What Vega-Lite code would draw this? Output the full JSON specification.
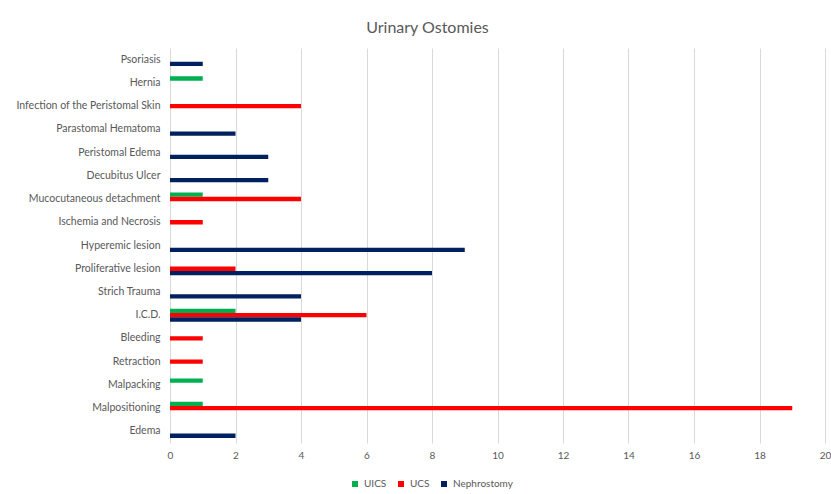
{
  "$schema": "https://vega.github.io/schema/vega-lite/v6.json",
  "width": 655,
  "height": 395,
  "autosize": {"type": "none"},
  "padding": {"left": 170, "top": 48, "right": 6, "bottom": 51},
  "background": "white",
  "title": {
    "text": "Urinary Ostomies",
    "anchor": "middle",
    "dx": -70,
    "offset": 12,
    "font": "Lato",
    "fontSize": 16,
    "fontWeight": "normal",
    "color": "#595959"
  },
  "data": {
    "values": [
      {"cat": "Psoriasis", "series": "Nephrostomy", "value": 1},
      {"cat": "Hernia", "series": "UICS", "value": 1},
      {"cat": "Infection of the Peristomal Skin", "series": "UCS", "value": 4},
      {"cat": "Parastomal Hematoma", "series": "Nephrostomy", "value": 2},
      {"cat": "Peristomal Edema", "series": "Nephrostomy", "value": 3},
      {"cat": "Decubitus Ulcer", "series": "Nephrostomy", "value": 3},
      {"cat": "Mucocutaneous detachment", "series": "UICS", "value": 1},
      {"cat": "Mucocutaneous detachment", "series": "UCS", "value": 4},
      {"cat": "Ischemia and Necrosis", "series": "UCS", "value": 1},
      {"cat": "Hyperemic lesion", "series": "Nephrostomy", "value": 9},
      {"cat": "Proliferative lesion", "series": "UCS", "value": 2},
      {"cat": "Proliferative lesion", "series": "Nephrostomy", "value": 8},
      {"cat": "Strich Trauma", "series": "Nephrostomy", "value": 4},
      {"cat": "I.C.D.", "series": "UICS", "value": 2},
      {"cat": "I.C.D.", "series": "UCS", "value": 6},
      {"cat": "I.C.D.", "series": "Nephrostomy", "value": 4},
      {"cat": "Bleeding", "series": "UCS", "value": 1},
      {"cat": "Retraction", "series": "UCS", "value": 1},
      {"cat": "Malpacking", "series": "UICS", "value": 1},
      {"cat": "Malpositioning", "series": "UICS", "value": 1},
      {"cat": "Malpositioning", "series": "UCS", "value": 19},
      {"cat": "Edema", "series": "Nephrostomy", "value": 2}
    ]
  },
  "mark": {"type": "bar", "cornerRadius": 0},
  "encoding": {
    "y": {
      "field": "cat",
      "type": "nominal",
      "sort": ["Psoriasis", "Hernia", "Infection of the Peristomal Skin", "Parastomal Hematoma", "Peristomal Edema", "Decubitus Ulcer", "Mucocutaneous detachment", "Ischemia and Necrosis", "Hyperemic lesion", "Proliferative lesion", "Strich Trauma", "I.C.D.", "Bleeding", "Retraction", "Malpacking", "Malpositioning", "Edema"],
      "scale": {"paddingInner": 0.44, "paddingOuter": 0.22},
      "axis": {
        "title": null,
        "ticks": false,
        "domain": false,
        "grid": false,
        "labelPadding": 10,
        "labelFont": "Lato",
        "labelFontSize": 10.5,
        "labelColor": "#595959"
      }
    },
    "yOffset": {
      "field": "series",
      "type": "nominal",
      "sort": ["UICS", "UCS", "Nephrostomy"],
      "scale": {"domain": ["UICS", "UCS", "Nephrostomy"], "paddingInner": 0, "paddingOuter": 0}
    },
    "x": {
      "field": "value",
      "type": "quantitative",
      "scale": {"domain": [0, 20], "nice": false},
      "axis": {
        "title": null,
        "values": [0, 2, 4, 6, 8, 10, 12, 14, 16, 18, 20],
        "ticks": false,
        "domain": false,
        "grid": true,
        "gridColor": "#D9D9D9",
        "gridWidth": 1,
        "labelPadding": 7,
        "labelFlush": false,
        "labelOverlap": false,
        "labelFont": "Lato",
        "labelFontSize": 10,
        "labelColor": "#595959"
      }
    },
    "color": {
      "field": "series",
      "type": "nominal",
      "scale": {"domain": ["UICS", "UCS", "Nephrostomy"], "range": ["#00B050", "#FF0000", "#002060"]},
      "legend": {
        "title": null,
        "orient": "none",
        "direction": "horizontal",
        "legendX": 180,
        "legendY": 431,
        "symbolType": "square",
        "symbolSize": 36,
        "symbolStrokeWidth": 0,
        "labelFont": "Lato",
        "labelFontSize": 10,
        "labelColor": "#595959",
        "labelOffset": 4,
        "columnPadding": 9
      }
    }
  },
  "config": {
    "view": {"stroke": null}
  }
}
